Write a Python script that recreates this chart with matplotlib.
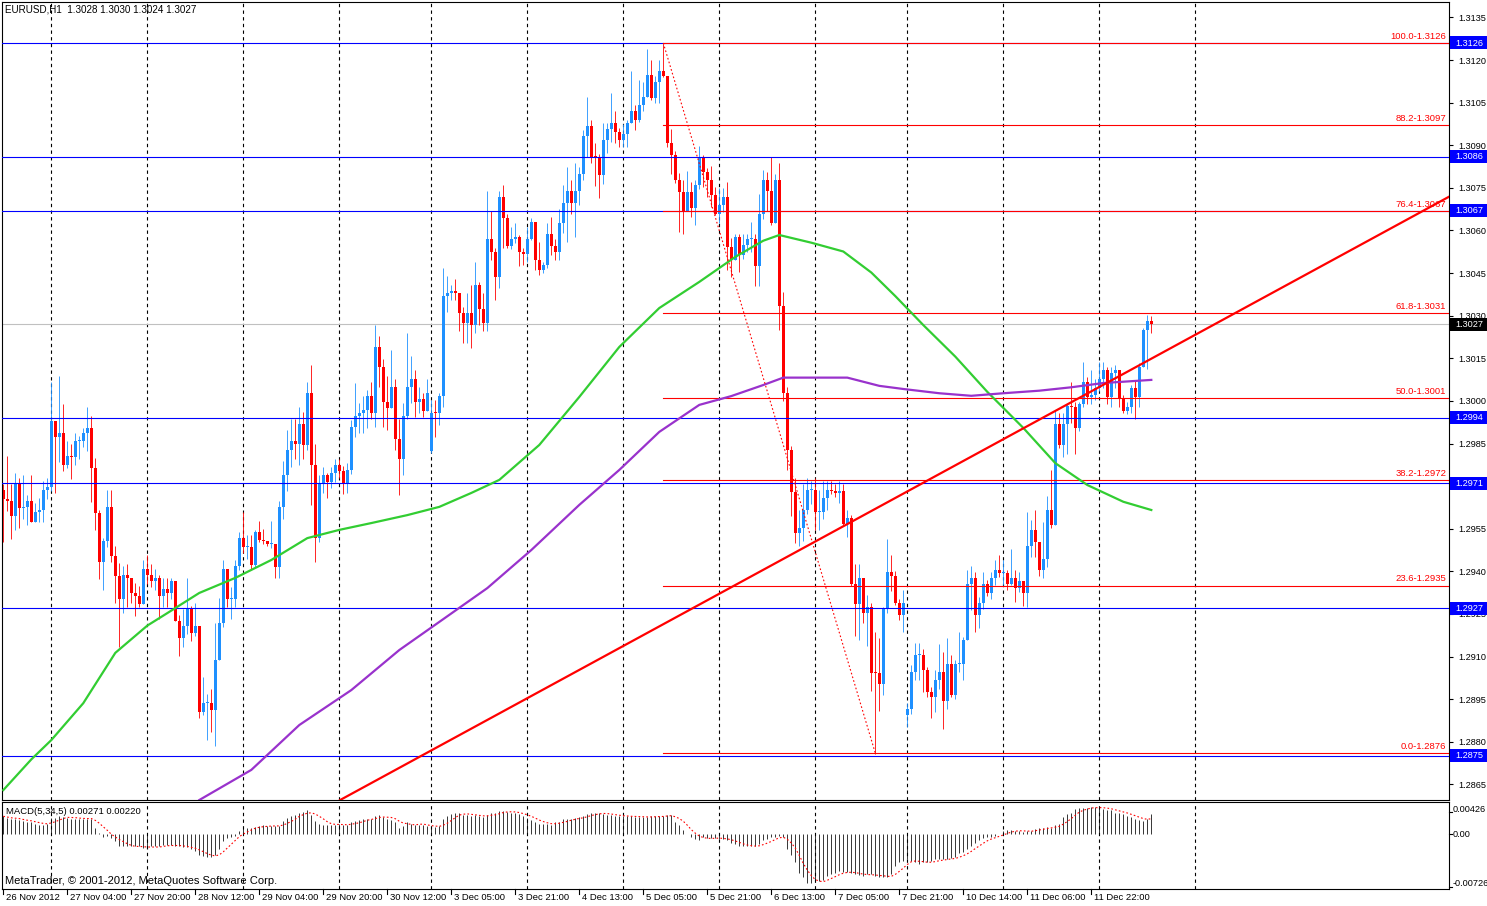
import matplotlib
matplotlib.use("Agg")
import matplotlib.pyplot as plt
import matplotlib.transforms as mtransforms
from matplotlib.patches import Rectangle
from matplotlib.lines import Line2D
import numpy as np
import pandas as pd

plt.rcParams["font.family"] = ["Liberation Sans", "DejaVu Sans"]

# ---------------- data (prices as pips above BASE) ----------------
BASE = 1.2800
PIP = 0.0001

first_open = 168.6
close_p = [
    165.5, 164.6, 159.5, 170.9, 162.3, 162.5, 164.6, 157.4, 160.8, 161.5,
    168.6, 169.6, 193.0, 187.4, 188.7, 177.4, 180.5, 180.3, 185.8, 185.8,
    188.7, 190.6, 176.4, 160.6, 143.3, 150.6, 162.6, 145.4, 138.4, 130.3,
    138.6, 137.6, 132.4, 131.2, 128.5, 140.7, 138.6, 136.6, 137.6, 131.2,
    133.7, 132.4, 136.5, 122.5, 116.6, 120.7, 126.7, 118.3, 120.7, 90.5,
    93.5, 93.5, 91.2, 108.7, 121.7, 140.7, 130.3, 130.3, 141.8, 151.7,
    148.6, 148.6, 142.2, 153.7, 151.2, 150.6, 149.6, 149.6, 141.6, 162.7,
    173.9, 182.7, 185.9, 184.7, 191.8, 184.4, 202.9, 177.4, 151.6, 171.0,
    173.9, 171.5, 174.7, 177.6, 175.3, 170.6, 175.6, 190.9, 194.7, 195.6,
    196.8, 201.7, 195.6, 219.1, 211.8, 199.7, 197.6, 204.9, 186.7, 179.7,
    194.7, 204.9, 207.8, 199.7, 200.6, 196.5, 202.9, 195.8, 195.6, 201.7,
    236.9, 238.0, 238.7, 237.9, 230.8, 227.5, 230.8, 226.6, 240.8, 232.5,
    227.5, 257.0, 252.5, 243.7, 271.9, 264.5, 254.7, 257.0, 257.6, 252.5,
    251.7, 257.0, 263.1, 249.6, 246.1, 247.9, 258.8, 254.7, 252.5, 262.8,
    269.6, 273.9, 269.6, 273.9, 279.9, 293.1, 296.8, 286.0, 285.8, 279.6,
    291.9, 295.7, 297.8, 294.8, 291.9, 293.9, 297.8, 301.9, 298.9, 304.2,
    307.1, 314.8, 306.8, 312.1, 316.0, 314.4, 290.7, 286.6, 277.8, 273.7,
    267.0, 273.7, 267.8, 276.0, 285.4, 280.7, 277.8, 272.5, 265.8, 269.0,
    271.9, 254.3, 249.6, 257.7, 251.5, 255.0, 257.0, 257.0, 247.6, 265.8,
    277.9, 273.8, 262.6, 277.9, 233.4, 202.8, 182.6, 167.9, 153.6, 155.4,
    161.7, 168.7, 168.7, 161.0, 161.0, 165.8, 168.7, 168.2, 167.7, 168.2,
    156.5, 158.9, 135.5, 128.6, 137.6, 125.5, 127.6, 104.3, 104.2, 100.5,
    126.9, 139.7, 138.3, 128.7, 124.5, 129.0, 91.4, 104.6, 110.5, 110.5,
    105.4, 97.6, 95.6, 101.7, 104.6, 94.4, 107.5, 96.4, 107.5, 107.5,
    115.7, 135.7, 137.5, 124.6, 128.9, 135.7, 132.4, 137.5, 140.6, 139.5,
    139.5, 135.7, 137.5, 134.3, 136.5, 132.4, 148.9, 154.7, 150.4, 140.6,
    144.5, 161.5, 156.3, 191.8, 184.4, 191.8, 198.2, 197.7, 190.5, 198.9,
    206.7, 201.5, 202.0, 204.7, 207.6, 210.8, 201.5, 209.9, 210.8, 200.5,
    196.5, 197.7, 204.7, 201.5, 212.0, 224.9, 228.0, 227.0,
]
high_p = [
    170.9, 180.5, 170.9, 174.6, 172.8, 173.9, 166.8, 173.9, 163.9, 165.8,
    171.7, 172.8, 206.7, 193.0, 208.7, 198.9, 185.8, 184.8, 188.7, 187.6,
    190.6, 197.8, 194.6, 179.8, 161.5, 151.9, 168.6, 168.6, 148.8, 143.1,
    141.8, 142.5, 137.6, 135.8, 134.8, 143.9, 145.9, 142.5, 140.7, 138.6,
    137.6, 137.6, 137.6, 136.5, 124.7, 126.7, 137.6, 127.7, 128.7, 119.6,
    102.8, 96.7, 98.5, 121.7, 130.5, 143.9, 140.7, 134.5, 143.9, 153.8,
    160.8, 152.7, 152.7, 154.5, 157.7, 154.9, 150.0, 157.7, 148.9, 164.7,
    178.8, 189.7, 193.5, 193.5, 197.7, 196.2, 206.6, 212.6, 184.7, 173.9,
    176.8, 174.5, 176.8, 179.7, 179.7, 177.0, 178.0, 193.2, 206.2, 199.1,
    201.7, 203.8, 206.6, 226.7, 222.8, 214.6, 208.9, 217.9, 207.6, 193.5,
    199.1, 223.8, 215.8, 210.9, 204.9, 202.9, 207.8, 200.3, 200.3, 202.9,
    246.7, 244.0, 240.8, 242.8, 238.1, 233.2, 238.1, 240.8, 249.0, 242.0,
    238.1, 274.0, 266.8, 253.7, 273.9, 276.0, 265.9, 261.4, 262.8, 258.4,
    253.7, 261.4, 264.3, 263.1, 256.1, 249.0, 262.8, 264.9, 257.0, 267.5,
    276.0, 282.5, 277.8, 283.7, 282.5, 295.4, 307.1, 298.9, 290.7, 286.8,
    297.8, 297.8, 308.3, 301.9, 296.0, 297.5, 298.9, 316.0, 304.2, 313.0,
    312.4, 323.8, 320.1, 314.4, 320.1, 325.7, 314.4, 295.6, 288.0, 280.1,
    277.6, 281.0, 277.2, 277.8, 289.8, 286.6, 281.9, 282.7, 275.4, 274.8,
    274.8, 276.9, 257.3, 258.7, 258.7, 258.7, 258.7, 263.0, 258.7, 272.8,
    281.4, 280.7, 286.0, 280.0, 283.8, 238.5, 204.8, 184.0, 172.8, 161.7,
    170.7, 172.8, 171.9, 172.8, 168.7, 171.9, 171.9, 171.9, 170.7, 171.9,
    170.7, 161.7, 159.9, 142.6, 142.6, 136.6, 131.8, 129.0, 118.5, 116.7,
    127.6, 151.5, 145.7, 140.1, 130.4, 133.4, 93.5, 107.0, 114.8, 114.8,
    112.6, 106.4, 99.3, 105.4, 114.6, 111.6, 116.7, 110.5, 108.9, 118.5,
    116.9, 140.6, 141.8, 139.8, 131.0, 139.8, 136.9, 139.8, 143.9, 145.7,
    143.9, 140.6, 147.7, 140.6, 139.8, 136.5, 160.8, 158.0, 161.5, 148.9,
    157.4, 166.5, 175.6, 196.8, 195.8, 195.8, 198.9, 206.7, 199.7, 199.7,
    213.8, 208.5, 210.8, 207.6, 213.8, 213.8, 212.0, 212.0, 212.6, 210.8,
    202.0, 199.7, 205.6, 207.3, 213.2, 225.5, 230.1, 230.0,
]
low_p = [
    150.4, 161.3, 151.3, 154.5, 155.2, 158.6, 156.4, 157.4, 158.5, 157.4,
    157.4, 165.5, 168.3, 167.6, 178.6, 175.4, 176.4, 172.6, 177.5, 179.5,
    183.7, 182.4, 164.5, 154.5, 137.3, 133.6, 148.6, 143.3, 128.7, 113.4,
    125.4, 127.5, 128.7, 124.3, 127.5, 128.5, 135.5, 134.5, 133.4, 123.3,
    127.5, 127.5, 130.3, 122.5, 110.2, 113.4, 118.1, 115.5, 117.2, 88.4,
    89.4, 80.5, 83.5, 78.5, 109.5, 120.4, 127.5, 123.3, 127.5, 140.6,
    146.5, 144.4, 140.4, 141.6, 150.4, 149.6, 149.1, 148.1, 137.5, 137.5,
    158.6, 168.2, 176.8, 179.6, 177.4, 179.6, 182.7, 163.5, 143.4, 150.4,
    167.7, 165.7, 169.2, 171.5, 172.9, 167.4, 167.7, 174.2, 187.4, 188.6,
    188.6, 190.3, 193.8, 190.7, 205.0, 190.7, 189.7, 197.7, 182.7, 166.9,
    173.9, 193.5, 199.1, 194.4, 195.8, 194.4, 196.8, 181.5, 187.4, 191.5,
    197.7, 231.4, 235.7, 235.5, 224.6, 220.5, 220.5, 218.7, 223.8, 226.6,
    224.6, 224.6, 249.6, 235.5, 239.6, 253.7, 253.7, 253.5, 255.5, 247.6,
    247.9, 249.0, 256.7, 246.1, 244.3, 244.9, 246.7, 251.4, 249.6, 249.6,
    259.0, 256.1, 265.7, 257.6, 269.0, 277.8, 286.0, 283.7, 275.7, 271.6,
    276.3, 287.2, 291.3, 290.7, 289.5, 289.5, 289.5, 297.8, 295.4, 298.3,
    301.9, 307.1, 306.0, 304.8, 304.8, 314.2, 289.5, 279.8, 276.6, 259.6,
    258.7, 267.0, 264.9, 261.9, 274.5, 275.4, 271.9, 268.4, 265.5, 262.8,
    266.6, 246.1, 243.7, 250.1, 245.5, 250.1, 252.6, 252.6, 240.6, 240.6,
    264.0, 266.8, 261.9, 262.6, 225.0, 200.0, 175.6, 159.6, 149.9, 148.8,
    150.6, 160.3, 163.8, 154.7, 154.7, 158.5, 161.7, 167.3, 166.3, 164.1,
    156.1, 152.0, 134.8, 117.4, 115.8, 121.7, 113.7, 97.9, 75.7, 90.7,
    96.5, 125.5, 133.2, 128.3, 122.7, 118.5, 85.1, 89.9, 101.7, 101.7,
    97.6, 95.6, 88.5, 90.5, 98.7, 84.6, 91.7, 95.6, 95.2, 104.6,
    101.7, 116.3, 126.3, 118.5, 120.2, 126.9, 131.2, 130.4, 135.1, 138.1,
    135.1, 133.6, 135.1, 129.3, 132.8, 127.7, 127.5, 145.1, 145.1, 138.3,
    137.5, 141.6, 155.1, 156.3, 183.3, 180.3, 181.3, 192.1, 181.3, 189.5,
    197.7, 198.9, 198.9, 200.3, 203.6, 204.4, 198.9, 197.9, 204.7, 197.9,
    195.6, 195.3, 195.6, 193.8, 197.7, 212.0, 211.4, 224.0,
]
# weekend gap opens (Monday first bars)
gap_open_bars = [107, 226]
gap_open_p = [182.4, 89.6]

# MACD(5,34,5) main line, units of 1e-4
macd_p = [
    24, 22, 20, 20, 19, 18, 17, 16, 14, 13, 13, 14, 22, 22, 24, 23, 22, 21, 21, 21,
    21, 21, 21, 9, 2, -3, -2, -5, -9, -16, -16, -16, -16, -16, -16, -18, -18, -16, -16, -16,
    -14, -14, -14, -16, -16, -17, -17, -20, -22, -27, -29, -30, -30, -27, -20, -9, -5, -4, -2, 5,
    8, 9, 9, 10, 11, 12, 11, 11, 11, 11, 18, 22, 24, 26, 29, 30, 32, 26, 18, 14,
    13, 13, 13, 13, 14, 12, 12, 16, 18, 19, 20, 21, 21, 24, 26, 23, 20, 19, 16, 9,
    11, 16, 14, 13, 13, 12, 11, 9, 10, 11, 20, 24, 27, 29, 28, 26, 26, 24, 26, 24,
    23, 26, 28, 29, 31, 31, 30, 29, 28, 27, 24, 22, 19, 16, 14, 14, 14, 13, 16, 17,
    20, 20, 21, 22, 23, 24, 27, 29, 28, 28, 27, 26, 26, 24, 24, 24, 24, 24, 23, 23,
    23, 23, 24, 24, 24, 24, 26, 26, 17, 12, 6, 0, -4, -6, -7, -4, -5, -5, -5, -6,
    -6, -8, -11, -13, -15, -16, -16, -15, -16, -13, -8, -6, -4, -3, -2, -4, -20, -28, -37, -51,
    -57, -64, -65, -63, -62, -60, -55, -53, -51, -49, -50, -50, -52, -53, -54, -55, -53, -53, -55, -57,
    -57, -57, -53, -42, -37, -35, -33, -35, -37, -39, -37, -37, -35, -33, -33, -33, -33, -31, -30, -25,
    -23, -20, -15, -11, -8, -5, -4, -3, -2, 1, 4, 6, 6, 4, 4, 3, 5, 5, 7, 9,
    8, 10, 9, 12, 14, 23, 27, 29, 34, 35, 35, 35, 36, 36, 36, 34, 32, 32, 29, 29,
    27, 25, 23, 20, 19, 18, 20, 27,
]

# moving averages (bar index, pips)
green_bars = [0, 7, 12, 20, 28, 36, 41, 49, 58, 67, 76, 84, 92, 101, 109, 117, 124, 134, 144,
              154, 164, 174, 183, 190, 194, 202, 210, 217, 223, 230, 238, 246, 255, 263, 271, 280, 287]
green_p = [63.0, 73.8, 80.6, 93.6, 111.3, 120.9, 125.3, 132.4, 137.7, 144.0, 151.7, 154.6, 157.0,
           159.8, 162.7, 167.6, 172.2, 184.5, 201.4, 219.0, 232.7, 241.9, 250.7, 256.4, 258.4, 255.7,
           252.6, 245.2, 236.9, 226.7, 215.6, 203.2, 190.5, 178.1, 170.4, 164.5, 161.6]
purple_bars = [49, 62, 74, 87, 99, 109, 121, 132, 144, 154, 164, 174, 182, 190, 195, 211, 219,
               225, 234, 242, 250, 259, 267, 275, 287]
purple_p = [59.5, 70.1, 85.9, 98.2, 112.3, 122.2, 134.1, 147.5, 163.4, 175.7, 189.1, 198.6, 201.7,
            205.6, 208.2, 208.2, 205.3, 204.2, 202.7, 201.8, 202.7, 203.6, 204.8, 206.3, 207.4]

# trend line anchors
trend_bars = [100, 280]
trend_prices = [1.28716, 1.30095]

# fibonacci retracement
fib_bars = [165, 218]
fib_levels = ["100.0", "88.2", "76.4", "61.8", "50.0", "38.2", "23.6", "0.0"]
fib_prices = [1.3126, 1.3097, 1.3067, 1.3031, 1.3001, 1.2972, 1.2935, 1.2876]

blue_levels = [1.3126, 1.3086, 1.3067, 1.2994, 1.2971, 1.2927, 1.2875]
bid = 1.3027

day_bars = [12, 36, 60, 84, 107, 131, 155, 179, 203, 226, 250, 274, 298]
time_labels = ["26 Nov 2012", "27 Nov 04:00", "27 Nov 20:00", "28 Nov 12:00", "29 Nov 04:00",
               "29 Nov 20:00", "30 Nov 12:00", "3 Dec 05:00", "3 Dec 21:00", "4 Dec 13:00",
               "5 Dec 05:00", "5 Dec 21:00", "6 Dec 13:00", "7 Dec 05:00", "7 Dec 21:00",
               "10 Dec 14:00", "11 Dec 06:00", "11 Dec 22:00"]
label_bars = list(range(0, 16 * len(time_labels), 16))

# ---------------- figure ----------------
W, H = 1487, 906
BLUE_C = "#1E90FF"
RED_C = "#FF0000"
FS = 6.8      # small chart text
FS_AX = 6.6   # right price scale

fig = plt.figure(figsize=(W / 100, H / 100), dpi=100)
fig.patch.set_facecolor("white")


def px_to_bar(px):
    return (px - 3.3) / 4.0


ax = fig.add_axes([2 / W, (H - 800) / H, 1447 / W, 798.5 / H])
ax2 = fig.add_axes([2 / W, (H - 889) / H, 1447 / W, (889 - 802.3) / H])
xlim = (px_to_bar(2), px_to_bar(1449))
for a in (ax, ax2):
    a.set_xlim(*xlim)
    a.set_xticks([])
    for s in a.spines.values():
        s.set_linewidth(0.8)

ymin = 1.3126 - (800 - 43) / 28406.0
ymax = 1.3126 + (43 - 1.5) / 28406.0
ax.set_ylim(ymin, ymax)
ax2.set_ylim(-0.00726, 0.00426)

# vertical day grid
for b in day_bars:
    for a in (ax, ax2):
        a.axvline(b, color="black", lw=0.8, ls=(0, (3, 3)), zorder=1)

# candles
x = np.arange(len(close_p))
c = BASE + np.array(close_p) * PIP
h = BASE + np.array(high_p) * PIP
l = BASE + np.array(low_p) * PIP
o = np.empty_like(c)
o[0] = BASE + first_open * PIP
o[1:] = c[:-1]
for b, v in zip(gap_open_bars, gap_open_p):
    o[b] = BASE + v * PIP
up = c >= o
cols = np.where(up, BLUE_C, RED_C)
top = np.maximum(o, c)
bot = np.minimum(o, c)
ax.vlines(x, np.minimum(l, bot), np.maximum(h, top), colors=cols, lw=0.6, zorder=2)
ax.bar(x, np.maximum(top - bot, 0.4 * PIP), bottom=bot, width=0.7, color=cols, lw=0,
       zorder=2)

# horizontal lines
for p in blue_levels:
    ax.axhline(p, color="#0000FF", lw=0.8, zorder=3)
ax.axhline(bid, color="#C0C0C0", lw=0.8, zorder=1.5)

# moving averages
ax.plot(green_bars, BASE + np.array(green_p) * PIP, color="#32CD32", lw=1.6, zorder=4)
ax.plot(purple_bars, BASE + np.array(purple_p) * PIP, color="#9932CC", lw=1.6, zorder=4)

# trend line
ax.axline((trend_bars[0], trend_prices[0]), (trend_bars[1], trend_prices[1]),
          color=RED_C, lw=1.6, zorder=4)

# fibonacci
ax.plot(fib_bars, [fib_prices[0], fib_prices[-1]], color=RED_C, lw=0.8, ls=(0, (1.5, 2)), zorder=4)
lab_tr = mtransforms.offset_copy(
    mtransforms.blended_transform_factory(ax.transAxes, ax.transData), fig=fig, x=-2, y=1.5,
    units="points")
for lv, p in zip(fib_levels, fib_prices):
    ax.plot([fib_bars[0], xlim[1]], [p, p], color=RED_C, lw=0.8, zorder=3.5)
    ax.text(1.0, p, f"{lv}-{p:.4f}", transform=lab_tr, ha="right", va="bottom",
            color=RED_C, fontsize=6.8, zorder=5)

# right price axis (labels fully hidden behind a price box are left blank)
ticks = np.arange(1.2865, 1.31351, 0.0015)
box_levels = blue_levels + [bid]
tick_labels = []
for t in ticks:
    hidden = any(abs(t - p) < 0.00015 for p in box_levels)
    tick_labels.append("" if hidden else f"{t:.4f}")
ax.yaxis.tick_right()
ax.set_yticks(ticks)
ax.set_yticklabels(tick_labels)
ax.tick_params(axis="y", length=3, width=0.8, labelsize=FS_AX, pad=4)

bt = mtransforms.blended_transform_factory(ax.transAxes, ax.transData)
box_w = 38 / 1447
box_h = 13 / 28406.0
for p, fc in [(v, "#0000FF") for v in blue_levels] + [(bid, "black")]:
    ax.add_patch(Rectangle((1.0 + 0.6 / 1447, p - box_h / 2), box_w, box_h, transform=bt,
                           facecolor=fc, edgecolor="none", clip_on=False, zorder=6))
    ax.text(1.0 + 6 / 1447, p, f"{p:.4f}", transform=bt, ha="left", va="center",
            color="white", fontsize=FS_AX, clip_on=False, zorder=7)

# MACD panel
macd = np.array(macd_p) * 1e-4
signal = pd.Series(macd).rolling(5, min_periods=1).mean().values
ax2.vlines(x, 0, macd, colors="black", lw=0.55, zorder=2)
ax2.plot(x, signal, color=RED_C, lw=0.8, ls=(0, (1.5, 2)), zorder=3)
ax2.set_yticks([])
for txt, ypx in [("0.00426", 809), ("0.00", 834.3), ("-0.00726", 884)]:
    fig.text(1453 / W, 1 - ypx / H, txt, ha="left", va="center", fontsize=FS_AX)
for ypx in [811.7, 834.3, 887]:
    fig.add_artist(Line2D([1449 / W, 1452 / W], [1 - ypx / H] * 2, color="black", lw=0.8))

# texts
fig.text(5 / W, 1 - 10 / H, "EURUSD,H1  1.3028 1.3030 1.3024 1.3027", ha="left", va="center",
         fontsize=7.1)
fig.text(6 / W, 1 - 812 / H, "MACD(5,34,5) 0.00271 0.00220", ha="left", va="center",
         fontsize=FS)
fig.text(5 / W, 1 - 881 / H, "MetaTrader, © 2001-2012, MetaQuotes Software Corp.", ha="left",
         va="center", fontsize=8.0)

# time axis labels
for b, txt in zip(label_bars, time_labels):
    xp = 3.3 + 4 * b
    fig.add_artist(Line2D([xp / W, xp / W], [1 - 889 / H, 1 - 894 / H], color="black", lw=0.8))
    fig.text((xp + 3) / W, 1 - 898 / H, txt, ha="left", va="center", fontsize=FS)

fig.savefig("out.png", dpi=100, facecolor="white")
